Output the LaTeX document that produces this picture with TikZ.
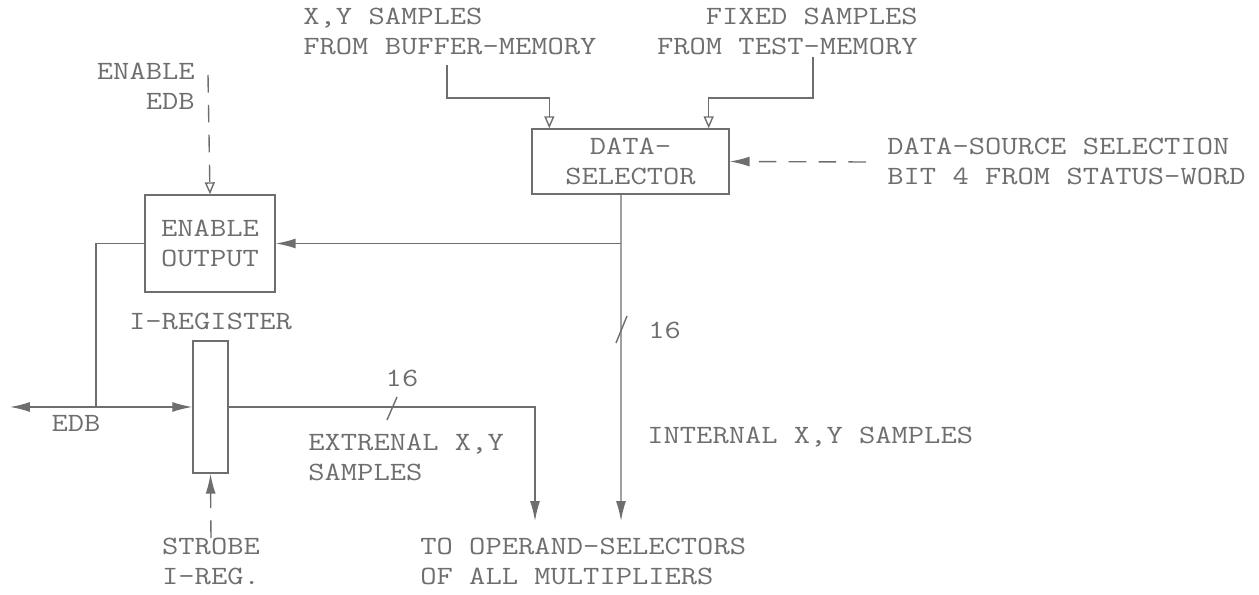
\documentclass[tikz,border=0pt]{standalone}
\usepackage{fontspec}
\setmonofont{Latin Modern Mono}[FakeStretch=1.2]
\usetikzlibrary{arrows.meta,positioning}
\definecolor{ink}{HTML}{6E6E6E}

\begin{document}
\begin{tikzpicture}[
    x=0.02cm, y=-0.02cm,
    txt/.style={font=\ttfamily\fontsize{15}{17}\selectfont, text=ink, inner sep=0pt},
    block/.style={draw=ink, line width=0.8pt, txt, align=center},
    wire/.style={draw=ink, line width=0.8pt},
    feed/.style={wire, -{Latex[length=0.4cm,width=0.2cm]}},
    hollow/.style={wire, -{Triangle[open,length=0.24cm,width=0.2cm]}},
    ctrl/.style={dash pattern=on 10pt off 7pt},
  ]
  \useasboundingbox (0,0) rectangle (1259,595);

  % blocks
  \node[block, minimum width=3.94cm, minimum height=1.3cm] (ds) at (630.5,161.5) {DATA-\\SELECTOR};
  \node[block, minimum width=2.6cm, minimum height=1.94cm] (eo) at (210,243.5) {ENABLE\\OUTPUT};
  \node[block, minimum width=0.7cm, minimum height=2.64cm] (ireg) at (210.5,407) {};
  \node[txt, above=0.2cm of ireg] (iregname) {I-REGISTER};

  % labels
  \node[txt, anchor=north west, align=left] (bufmem) at (303,8) {X,Y SAMPLES\\FROM BUFFER-MEMORY};
  \node[txt, anchor=north east, align=right] (testmem) at (918,8) {FIXED SAMPLES\\FROM TEST-MEMORY};
  \node[txt, anchor=west, align=left] (dssel) at (887,161) {DATA-SOURCE SELECTION\\BIT 4 FROM STATUS-WORD};
  \node[txt, anchor=north east, align=right] (enedb) at (195,63) {ENABLE\\EDB};
  \node[txt] (edblbl) at (76,423) {EDB};
  \node[txt, align=center, anchor=north] (strobe) at (211,538) {STROBE\\I-REG.};
  \node[txt, anchor=west, align=left] (extlbl) at (308,457) {EXTRENAL X,Y\\SAMPLES};
  \node[txt] (extw) at (402,378) {16};
  \node[txt, anchor=west] (intw) at (648,330) {16};
  \node[txt, anchor=west] (intlbl) at (647,437) {INTERNAL X,Y SAMPLES};
  \node[txt, anchor=north west, align=left] (opsel) at (420,538) {TO OPERAND-SELECTORS\\OF ALL MULTIPLIERS};

  % free ends
  \coordinate (bufsrc) at (447,65);
  \coordinate (testsrc) at (813,57);
  \coordinate (selsrc) at (866,162);
  \coordinate (ensrc) at (208,75);
  \coordinate (dsout) at ([xshift=-0.19cm]ds.south);
  \coordinate (tap) at (dsout |- eo.east);
  \coordinate (intend) at (621,521);
  \coordinate (extend) at (535,521);
  \coordinate (edbjoin) at (96,407);
  \coordinate (edbtip) at (10,407);

  % data paths
  \draw[hollow] (bufsrc) -- ++(0,33) -| ([xshift=0.36cm]ds.north west);
  \draw[hollow] (testsrc) -- ++(0,41) -| ([xshift=-0.42cm]ds.north east);
  \draw[feed] (dsout) -- (intend);
  \draw[feed] (tap) -- (eo.east);
  \draw[wire] (eo.west) -| (edbjoin);
  \draw[wire, {Latex[length=0.4cm,width=0.2cm]}-{Latex[length=0.4cm,width=0.2cm]}] (edbtip) -- (ireg.west);
  \draw[feed] (ireg.east) -| (extend);

  % control lines
  \draw[feed, ctrl] (selsrc) -- (ds.east);
  \draw[hollow, ctrl] (ensrc) -- (eo.north);
  \draw[feed, ctrl] (strobe.north) -- (ireg.south);

  % bus width marks
  \draw[wire] (387,420) -- (397,397);
  \draw[wire] (616,343) -- (627,316);
\end{tikzpicture}
\end{document}
